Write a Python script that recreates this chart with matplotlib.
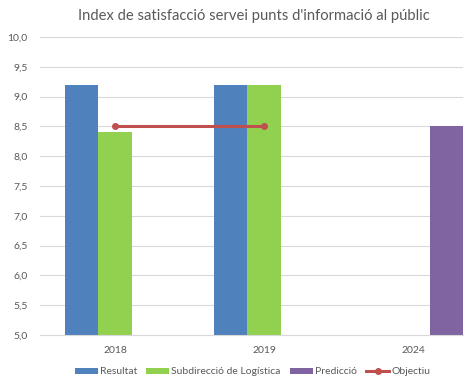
import numpy as np
import matplotlib
matplotlib.use("Agg")
import matplotlib.pyplot as plt

plt.rcParams['font.family'] = ['Lato', 'DejaVu Sans']

years = ['2018', '2019', '2024']
resultat = [9.2, 9.2, None]
logistica = [8.4, 9.2, None]
prediccio = [None, None, 8.5]
objectiu = [8.5, 8.5]

blue = '#4F81BD'
green = '#92D050'
purple = '#8064A2'
red = '#C0504D'
grey = '#595959'

fig = plt.figure(figsize=(4.65, 3.78), dpi=100)
ax = fig.add_axes([0.086, 0.114, 0.910, 0.788])

x = np.arange(len(years))
w = 0.225


def bars(vals, offset, color, label):
    xs = [xi + offset for xi, v in zip(x, vals) if v is not None]
    ys = [v for v in vals if v is not None]
    return ax.bar(xs, [y - 5 for y in ys], w, bottom=5, color=color, label=label, zorder=2)


h1 = bars(resultat, -w, blue, 'Resultat')
h2 = bars(logistica, 0, green, 'Subdirecció de Logística')
h3 = bars(prediccio, w, purple, 'Predicció')
h4, = ax.plot(x[:len(objectiu)], objectiu, color=red, lw=2.2, marker='o', ms=4,
              label='Objectiu', zorder=3)

ax.set_ylim(5, 10)
ax.set_xlim(-0.503, 2.336)
yt = np.arange(5, 10.01, 0.5)
ax.set_yticks(yt)
ax.set_yticklabels([f'{v:.1f}'.replace('.', ',') for v in yt])
ax.set_xticks(x)
ax.set_xticklabels(years)
ax.tick_params(length=0, colors=grey, labelsize=7.5)
ax.tick_params(axis='y', pad=9)
ax.tick_params(axis='x', pad=8)
ax.grid(axis='y', color='#D9D9D9', lw=0.8, zorder=0)
for s in ['top', 'right', 'left']:
    ax.spines[s].set_visible(False)
ax.spines['bottom'].set_color('#D9D9D9')

fig.text(0.546, 0.958, "Index de satisfacció servei punts d'informació al públic",
         ha='center', va='center', fontsize=10.6, color=grey)

fig.legend(handles=[h1, h2, h3, h4], loc='center', bbox_to_anchor=(0.543, 0.016),
           ncol=4, frameon=False, fontsize=7.5, labelcolor=grey, handlelength=2.2,
           handleheight=0.5, handletextpad=0.2, columnspacing=0.9)

fig.savefig('out.png', dpi=100)
